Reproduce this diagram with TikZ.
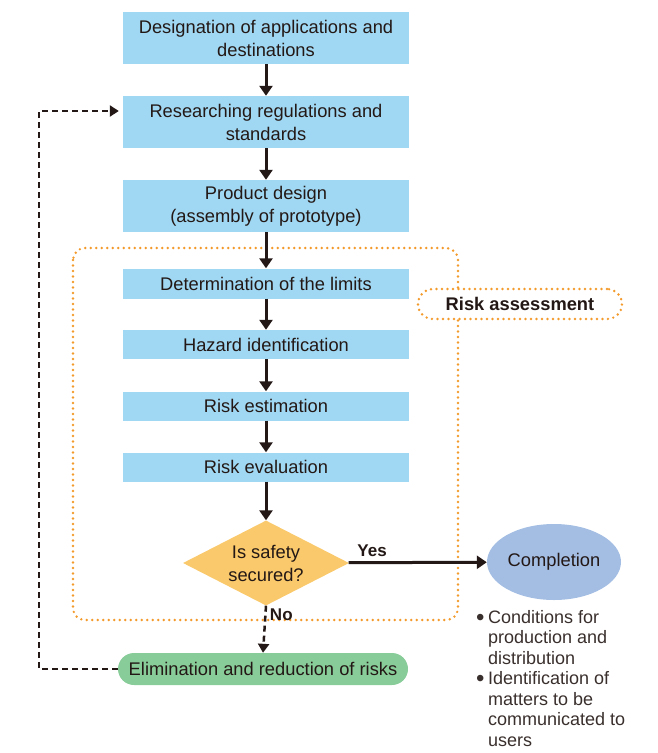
\documentclass[tikz,border=0pt]{standalone}
\usepackage{fontspec}
\setmainfont{Liberation Sans}
\usetikzlibrary{shapes.geometric,arrows.meta}
\definecolor{boxblue}{HTML}{A0D8F3}
\definecolor{dia}{HTML}{F9C96B}
\definecolor{ell}{HTML}{A3BDE3}
\definecolor{grn}{HTML}{88CC99}
\definecolor{org}{HTML}{F39A2B}
\definecolor{ink}{HTML}{231815}
\newcommand{\mybul}{\makebox[12pt][l]{\raisebox{-2pt}{\fontsize{24}{24}\selectfont\textbullet}}}
\begin{document}
\begin{tikzpicture}[x=1pt,y=-1pt,
  every node/.style={text=ink,font=\fontsize{18.3}{23}\selectfont},
  bluebox/.style={fill=boxblue,minimum width=286pt,inner sep=0pt,align=center},
  flow/.style={draw=ink,line width=3pt,-{Triangle[length=10pt,width=13pt]}},
  dflow/.style={draw=ink,line width=2.5pt,dash pattern=on 6pt off 4pt,-{Triangle[length=9pt,width=11pt]}},
  orgdot/.style={draw=org,line width=2.7pt,dash pattern=on 0pt off 5.5pt,line cap=round}]
\useasboundingbox (0,0) rectangle (658,753);
% risk assessment frame
\draw[orgdot,rounded corners=12pt] (73,248) rectangle (458,620);
\node[orgdot,rounded corners=15pt,minimum width=204pt,minimum height=30pt,inner sep=0pt,fill=white,font=\fontsize{18.3}{22.5}\selectfont\bfseries] (ra) at (520,304) {Risk assessment};
% boxes
\node[bluebox,minimum height=52pt] (b1) at (266,38) {Designation of applications and\\destinations};
\node[bluebox,minimum height=52pt] (b2) at (266,122) {Researching regulations and\\standards};
\node[bluebox,minimum height=52pt] (b3) at (266,206) {Product design\\(assembly of prototype)};
\node[bluebox,minimum height=30pt] (b4) at (266,283.5) {Determination of the limits};
\node[bluebox,minimum height=29pt] (b5) at (266,344.5) {Hazard identification};
\node[bluebox,minimum height=29pt] (b6) at (266,406) {Risk estimation};
\node[bluebox,minimum height=29pt] (b7) at (266,467) {Risk evaluation};
\node[diamond,fill=dia,aspect=1.95,minimum width=166pt,minimum height=85pt,inner sep=0pt,align=center] (d) at (266,563) {Is safety\\secured?};
\node[ellipse,fill=ell,minimum width=134pt,minimum height=76pt,inner sep=0pt] (c) at (554,562) {Completion};
\node[fill=grn,rounded corners=16pt,minimum width=290pt,minimum height=32pt,inner sep=0pt] (e) at (263,669) {Elimination and reduction of risks};
% arrows
\draw[flow] (b1) -- (b2);
\draw[flow] (b2) -- (b3);
\draw[flow] (b3) -- (b4);
\draw[flow] (b4) -- (b5);
\draw[flow] (b5) -- (b6);
\draw[flow] (b6) -- (b7);
\draw[flow] (b7) -- (d);
\draw[flow] (d) -- node[above,pos=0.17,font=\fontsize{17}{21}\selectfont\bfseries,yshift=1pt] (yes) {Yes} (c);
\draw[dflow] (d.south) -- node[right,pos=0.2,font=\fontsize{17}{21}\selectfont\bfseries] (no) {No} (e.north);
\coordinate (l1) at (39,669);
\coordinate (l2) at (39,111);
\draw[dflow] (e.west) -- (l1) -- (l2) -- ([xshift=-4pt]b2.west |- l2);
% bullets
\node[anchor=north west,align=left,inner sep=0pt,font=\fontsize{18}{20.5}\selectfont,text=ink!90] (bl) at (476,610)
{\mybul Conditions for\\
\hspace*{12pt}production and\\
\hspace*{12pt}distribution\\
\mybul Identification of\\
\hspace*{12pt}matters to be\\
\hspace*{12pt}communicated to\\
\hspace*{12pt}users};
\end{tikzpicture}
\end{document}
